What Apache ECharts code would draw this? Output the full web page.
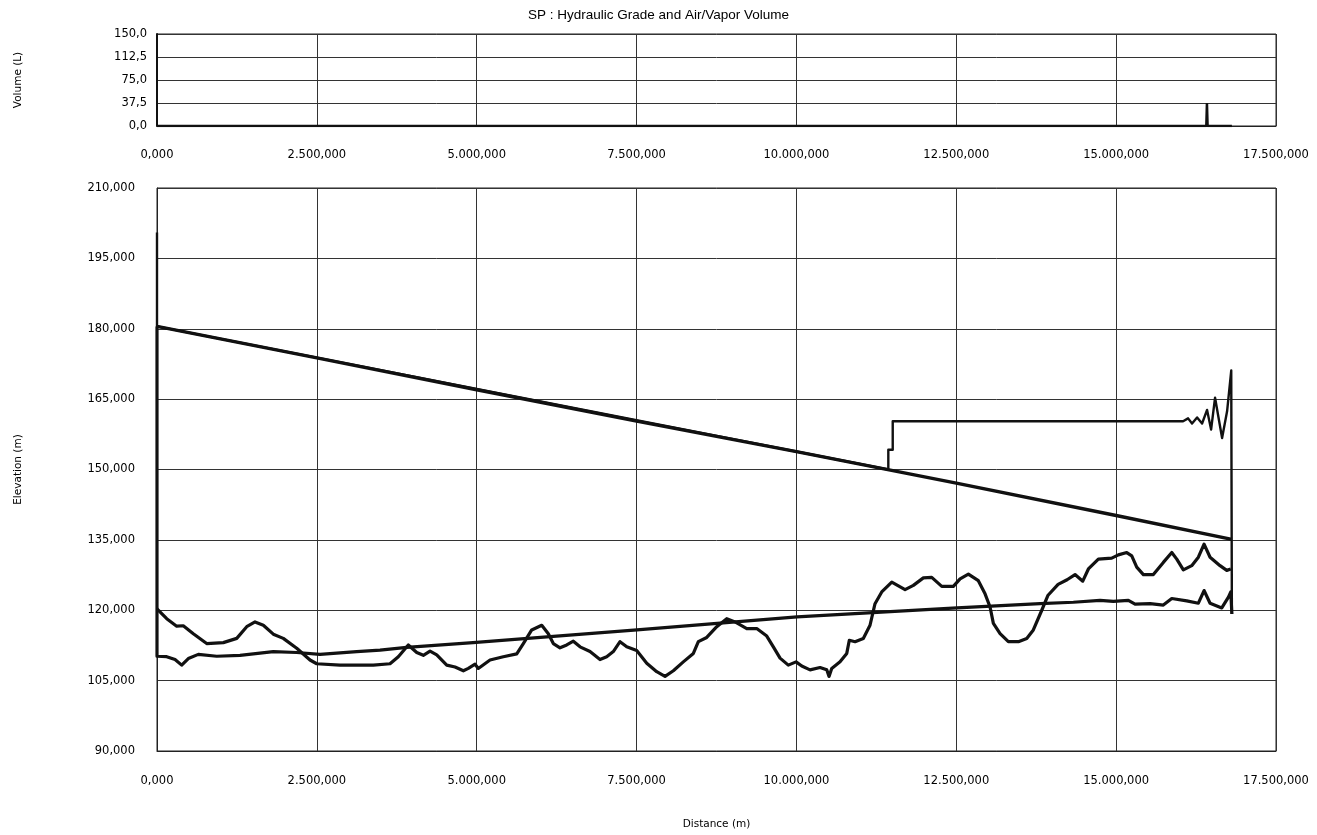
<!DOCTYPE html>
<html>
<head>
<meta charset="utf-8">
<title>SP : Hydraulic Grade and Air/Vapor Volume</title>
<script src="https://cdn.jsdelivr.net/npm/echarts@6/dist/echarts.min.js"></script>
<style>
  html, body { margin: 0; padding: 0; background: #fff; }
  #chart { width: 1317px; height: 835px; }
</style>
</head>
<body>
<div id="chart"></div>
<script>
// Distance along the pipeline (m) and elevations / heads (m)

// Ground (pipe) profile
const groundDist = [0, 152, 308, 411, 568, 777, 1037, 1247, 1403, 1533, 1663, 1819, 1975, 2185, 2393, 2498, 2862, 3383, 3644, 3774, 3930, 4062, 4165, 4270, 4375, 4531, 4661, 4791, 4869, 4974, 5025, 5208, 5416, 5626, 5729, 5860, 6017, 6120, 6198, 6303, 6408, 6511, 6616, 6772, 6928, 7033, 7136, 7241, 7346, 7502, 7659, 7815, 7945, 8075, 8231, 8388, 8466, 8597, 8754, 8910, 9040, 9223, 9379, 9536, 9639, 9744, 9873, 9994, 10083, 10213, 10369, 10474, 10510, 10552, 10682, 10787, 10827, 10917, 11046, 11151, 11229, 11334, 11491, 11699, 11829, 11985, 12116, 12273, 12454, 12559, 12689, 12845, 12950, 13028, 13080, 13185, 13314, 13471, 13602, 13705, 13837, 13935, 14092, 14233, 14357, 14478, 14566, 14722, 14931, 15035, 15166, 15244, 15322, 15426, 15582, 15738, 15870, 15948, 16051, 16182, 16286, 16375, 16469, 16625, 16730, 16793];
const groundElev = [120.3, 118.2, 116.6, 116.7, 115.0, 112.9, 113.1, 114.0, 116.5, 117.5, 116.8, 114.9, 114.0, 111.9, 109.4, 108.6, 108.3, 108.3, 108.6, 110.1, 112.6, 111.0, 110.4, 111.3, 110.5, 108.3, 107.9, 107.1, 107.6, 108.5, 107.6, 109.4, 110.1, 110.7, 112.9, 115.8, 116.8, 115.0, 112.9, 112.0, 112.6, 113.4, 112.2, 111.2, 109.5, 110.1, 111.2, 113.3, 112.2, 111.4, 108.7, 106.9, 105.9, 107.1, 109.0, 110.8, 113.3, 114.2, 116.5, 118.2, 117.5, 116.1, 116.1, 114.5, 112.2, 109.8, 108.3, 109.0, 108.1, 107.3, 107.8, 107.3, 105.9, 107.6, 109.0, 110.8, 113.6, 113.3, 114.0, 116.8, 121.4, 123.9, 126.0, 124.4, 125.3, 126.9, 127.0, 125.1, 125.1, 126.7, 127.7, 126.3, 123.5, 120.7, 117.2, 115.0, 113.3, 113.3, 114.0, 115.8, 120.0, 123.2, 125.5, 126.5, 127.6, 126.2, 128.8, 130.9, 131.1, 131.8, 132.3, 131.6, 129.2, 127.6, 127.6, 130.2, 132.3, 130.9, 128.6, 129.5, 131.3, 134.1, 131.3, 129.5, 128.5, 128.8];

// Steady-state hydraulic grade
const hglDist = [0, 2500, 5000, 7500, 10000, 12500, 15000, 16810];
const hglHead = [180.5, 173.8, 167.0, 160.3, 153.8, 147.1, 140.2, 135.1];

// Maximum head envelope
const maxDist = [0, 0, 11437, 11437, 11506, 11506, 16047, 16125, 16187, 16266, 16344, 16422, 16485, 16547, 16594, 16657, 16735, 16800, 16810];
const maxHead = [200.5, 180.5, 150.0, 154.2, 154.2, 160.3, 160.3, 160.9, 159.8, 161.1, 159.8, 162.7, 158.5, 165.3, 161.6, 156.7, 162.4, 171.1, 119.2];

// Minimum head envelope
const minDist = [0, 0, 152, 282, 386, 490, 646, 934, 1298, 1819, 2185, 2549, 3123, 3488, 3905, 4942, 7507, 10010, 12512, 13810, 14331, 14748, 14956, 15191, 15296, 15531, 15738, 15870, 16104, 16286, 16375, 16469, 16652, 16756, 16793, 16810];
const minHead = [180.5, 110.2, 110.1, 109.5, 108.3, 109.7, 110.6, 110.2, 110.4, 111.2, 111.0, 110.6, 111.2, 111.5, 112.1, 113.1, 115.8, 118.6, 120.5, 121.4, 121.7, 122.1, 121.9, 122.1, 121.3, 121.4, 121.1, 122.5, 122.0, 121.5, 124.2, 121.5, 120.5, 122.8, 123.9, 119.2];

// Air/vapor volume (L)
const volDist = [0, 15230, 15250, 15270, 15900, 15920, 15940, 16410, 16420, 16430, 16810];
const volValue = [0, 0, 2.5, 0, 0, 2.5, 0, 0, 37.5, 0, 0];

// Axis ranges
const distRange = { min: 0, max: 17500, step: 2500 };
const elevRange = { min: 90, max: 210, step: 15 };
const volRange = { min: 0, max: 150, step: 37.5 };

const zip = (xs, ys) => xs.map((x, i) => [x, ys[i]]);

// 1.234,567 style number formatting
function fmtNum(v, decimals) {
  const s = Number(v).toFixed(decimals);
  const parts = s.split('.');
  const intPart = parts[0].replace(/\B(?=(\d{3})+(?!\d))/g, '.');
  return parts.length > 1 ? intPart + ',' + parts[1] : intPart;
}

const FONT = 'DejaVu Sans';
const INK = '#111';
const GRID_LINE = { show: true, lineStyle: { color: '#333', width: 1 } };
const labelStyle = { color: '#000', fontFamily: FONT, fontSize: 11.5 };
const nameStyle = { fontFamily: FONT, fontSize: 10.5, color: '#000' };

const chart = echarts.init(document.getElementById('chart'), null, { renderer: 'canvas' });

chart.setOption({
  animation: false,
  backgroundColor: '#fff',
  title: {
    text: 'SP : Hydraulic Grade and Air/Vapor Volume',
    left: 'center',
    top: 3,
    textStyle: { fontFamily: 'Liberation Sans', fontSize: 13.5, fontWeight: 'normal', color: '#000' }
  },
  grid: [
    { left: 157, right: 41, top: 34, height: 92, show: true, borderColor: '#222', borderWidth: 1 },
    { left: 157, right: 41, top: 188, height: 567, show: true, borderColor: '#222', borderWidth: 1 }
  ],
  xAxis: [
    {
      gridIndex: 0, type: 'value', min: distRange.min, max: distRange.max, interval: distRange.step,
      axisLine: { show: true, onZero: false, lineStyle: { color: '#222', width: 1 } },
      axisTick: { show: false }, splitLine: GRID_LINE,
      axisLabel: Object.assign({ margin: 23, formatter: v => fmtNum(v, 3) }, labelStyle)
    },
    {
      gridIndex: 1, type: 'value', min: distRange.min, max: distRange.max, interval: distRange.step,
      name: 'Distance (m)', nameLocation: 'middle', nameGap: 68,
      nameTextStyle: nameStyle,
      axisLine: { show: true, onZero: false, lineStyle: { color: '#222', width: 1 } },
      axisTick: { show: false }, splitLine: GRID_LINE,
      axisLabel: Object.assign({ margin: 24, formatter: v => fmtNum(v, 3) }, labelStyle)
    }
  ],
  yAxis: [
    {
      gridIndex: 0, type: 'value', min: volRange.min, max: volRange.max, interval: volRange.step,
      name: 'Volume (L)', nameLocation: 'middle', nameRotate: 90, nameGap: 133,
      nameTextStyle: nameStyle,
      axisLine: { show: true, onZero: false, lineStyle: { color: '#111', width: 2 } },
      axisTick: { show: false }, splitLine: GRID_LINE,
      axisLabel: Object.assign({ margin: 10, formatter: v => fmtNum(v, 1) }, labelStyle)
    },
    {
      gridIndex: 1, type: 'value', min: elevRange.min, max: elevRange.max, interval: elevRange.step,
      name: 'Elevation (m)', nameLocation: 'middle', nameRotate: 90, nameGap: 133,
      nameTextStyle: nameStyle,
      axisLine: { show: true, onZero: false, lineStyle: { color: '#222', width: 1 } },
      axisTick: { show: false }, splitLine: GRID_LINE,
      axisLabel: Object.assign({ margin: 22, formatter: v => fmtNum(v, 3) }, labelStyle)
    }
  ],
  series: [
    {
      name: 'Air/Vapor Volume', type: 'line', xAxisIndex: 0, yAxisIndex: 0,
      data: zip(volDist, volValue), showSymbol: false, symbol: 'none',
      lineStyle: { color: INK, width: 2.5 }
    },
    {
      name: 'Ground', type: 'line', xAxisIndex: 1, yAxisIndex: 1,
      data: zip(groundDist, groundElev), showSymbol: false, symbol: 'none',
      lineStyle: { color: INK, width: 3.2, join: 'round' }
    },
    {
      name: 'Minimum Head', type: 'line', xAxisIndex: 1, yAxisIndex: 1,
      data: zip(minDist, minHead), showSymbol: false, symbol: 'none',
      lineStyle: { color: INK, width: 3.2, join: 'round' }
    },
    {
      name: 'Hydraulic Grade', type: 'line', xAxisIndex: 1, yAxisIndex: 1,
      data: zip(hglDist, hglHead), showSymbol: false, symbol: 'none',
      lineStyle: { color: INK, width: 3.4 }
    },
    {
      name: 'Maximum Head', type: 'line', xAxisIndex: 1, yAxisIndex: 1,
      data: zip(maxDist, maxHead), showSymbol: false, symbol: 'none',
      lineStyle: { color: INK, width: 2.4, join: 'round' }
    }
  ]
});
</script>
</body>
</html>
